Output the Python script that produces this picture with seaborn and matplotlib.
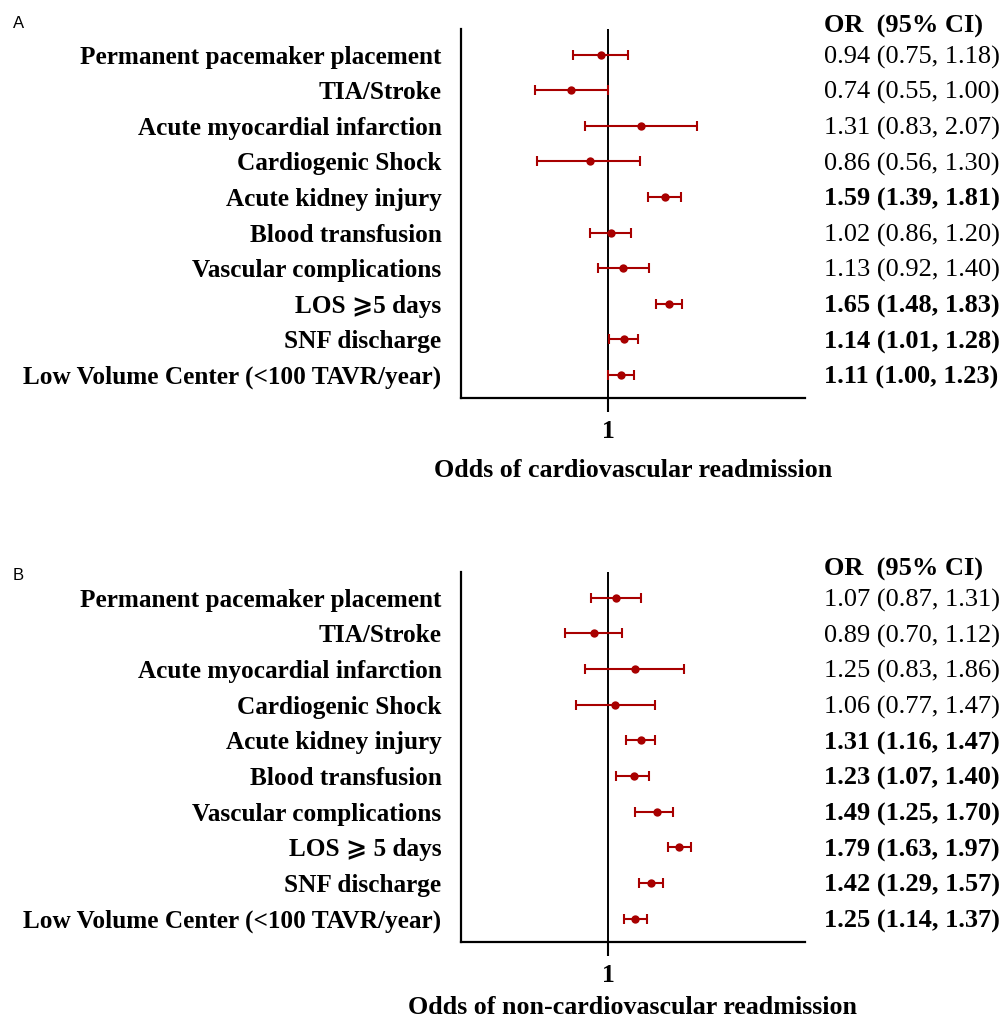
import numpy as np
import pandas as pd
import matplotlib
matplotlib.use('Agg')
import matplotlib.pyplot as plt
import matplotlib.transforms as mtransforms
from matplotlib.ticker import NullLocator
import seaborn as sns

labels_a = ['Permanent pacemaker placement', 'TIA/Stroke', 'Acute myocardial infarction',
            'Cardiogenic Shock', 'Acute kidney injury', 'Blood transfusion',
            'Vascular complications', 'LOS \u2a7e5 days', 'SNF discharge',
            'Low Volume Center (<100 TAVR/year)']
labels_b = ['Permanent pacemaker placement', 'TIA/Stroke', 'Acute myocardial infarction',
            'Cardiogenic Shock', 'Acute kidney injury', 'Blood transfusion',
            'Vascular complications', 'LOS \u2a7e 5 days', 'SNF discharge',
            'Low Volume Center (<100 TAVR/year)']

or_a = [0.94, 0.74, 1.31, 0.86, 1.59, 1.02, 1.13, 1.65, 1.14, 1.11]
lo_a = [0.75, 0.55, 0.83, 0.56, 1.39, 0.86, 0.92, 1.48, 1.01, 1.00]
hi_a = [1.18, 1.00, 2.07, 1.30, 1.81, 1.20, 1.40, 1.83, 1.28, 1.23]
bold_a = [0, 0, 0, 0, 1, 0, 0, 1, 1, 1]

or_b = [1.07, 0.89, 1.25, 1.06, 1.31, 1.23, 1.49, 1.79, 1.42, 1.25]
lo_b = [0.87, 0.70, 0.83, 0.77, 1.16, 1.07, 1.25, 1.63, 1.29, 1.14]
hi_b = [1.31, 1.12, 1.86, 1.47, 1.47, 1.40, 1.70, 1.97, 1.57, 1.37]
bold_b = [0, 0, 0, 0, 1, 1, 1, 1, 1, 1]

sns.set_style('ticks')
serif = ['Liberation Serif', 'DejaVu Serif', 'DejaVu Sans']
plt.rcParams['font.family'] = serif
plt.rcParams['text.color'] = 'black'
plt.rcParams['axes.labelcolor'] = 'black'
plt.rcParams['xtick.color'] = 'black'
plt.rcParams['ytick.color'] = 'black'

RED = '#a80000'
W, H = 1003, 1022
fig = plt.figure(figsize=(W / 100, H / 100), dpi=100)


def forest(ax, labels, orv, lo, hi, bold, xlabel, lpad):
    df = pd.DataFrame({'label': labels, 'OR': orv, 'lo': lo, 'hi': hi, 'pos': range(len(labels))})
    ax.set_xscale('log')
    ax.axvline(1, color='black', lw=1.4, zorder=1)
    ax.errorbar(df['OR'], df['pos'], xerr=[df['OR'] - df['lo'], df['hi'] - df['OR']],
                fmt='none', ecolor=RED, elinewidth=1.5, capsize=3.6, capthick=1.5, zorder=2)
    sns.scatterplot(data=df, x='OR', y='pos', color=RED, s=36, edgecolor=RED, linewidth=0,
                    ax=ax, zorder=3, legend=False)
    ax.set_xlim(0.3, 5)
    ax.set_ylim(9.65, -0.72)
    ax.set_xticks([1])
    ax.set_xticklabels(['1'], fontweight='bold', fontsize=18.5)
    ax.xaxis.set_minor_locator(NullLocator())
    ax.set_yticks(df['pos'])
    ax.set_yticklabels(df['label'], fontweight='bold', fontsize=18.2)
    ax.tick_params(axis='x', length=10, width=1.5, pad=6)
    ax.tick_params(axis='y', length=0, pad=14)
    for s in ['top', 'right']:
        ax.spines[s].set_visible(False)
    for s in ['left', 'bottom']:
        ax.spines[s].set_linewidth(1.6)
        ax.spines[s].set_color('black')
    ax.set_xlabel(xlabel, fontweight='bold', fontsize=18.7, labelpad=lpad)
    ax.set_ylabel('')
    tr = mtransforms.blended_transform_factory(fig.transFigure, ax.transData)
    ax.text(824 / W, -0.88, 'OR  (95% CI)', transform=tr, ha='left', va='center_baseline',
            fontsize=19, fontweight='bold', clip_on=False)
    for i in range(len(orv)):
        txt = '%.2f (%.2f, %.2f)' % (orv[i], lo[i], hi[i])
        ax.text(824 / W, i, txt, transform=tr, ha='left', va='center_baseline', fontsize=19,
                fontweight='bold' if bold[i] else 'normal', clip_on=False)


ax_a = fig.add_axes([461 / W, 1 - 398 / H, 344 / W, 369 / H])
ax_b = fig.add_axes([461 / W, 1 - 942 / H, 344 / W, 370 / H])
forest(ax_a, labels_a, or_a, lo_a, hi_a, bold_a, 'Odds of cardiovascular readmission', 11)
forest(ax_b, labels_b, or_b, lo_b, hi_b, bold_b, 'Odds of non-cardiovascular readmission', 6)

fig.text(13 / W, 1 - 24 / H, 'A', fontsize=12, family='Liberation Sans', va='center', ha='left')
fig.text(13 / W, 1 - 575 / H, 'B', fontsize=12, family='Liberation Sans', va='center', ha='left')

fig.savefig('out.png', dpi=100)
